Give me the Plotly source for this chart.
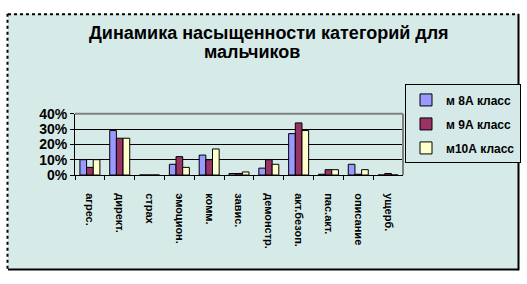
import plotly.graph_objects as go

W, H = 527, 284

categories = ["агрес.", "директ.", "страх", "эмоцион.", "комм.", "завис.",
              "демонстр.", "акт.безоп.", "пас.акт.", "описание", "ущерб."]
series_names = ["м 8А класс", "м 9А класс", "м10А класс"]
m8a = [0.10, 0.29, 0.0, 0.07, 0.13, 0.01, 0.045, 0.27, 0.005, 0.07, 0.0]
m9a = [0.05, 0.24, 0.0, 0.12, 0.10, 0.01, 0.10, 0.34, 0.035, 0.005, 0.01]
m10a = [0.10, 0.24, 0.0, 0.05, 0.17, 0.02, 0.07, 0.29, 0.035, 0.035, 0.0]
colors = ["#9999FF", "#993366", "#FFFFCC"]
y_ticks = [0, 0.1, 0.2, 0.3, 0.4]
y_ticklabels = ["0%", "10%", "20%", "30%", "40%"]

FONT = "Arial, Liberation Sans, sans-serif"


def px(x):
    return x / W


def py(y):
    return 1 - y / H


fig = go.Figure()
for i, (name, vals) in enumerate(zip(series_names, [m8a, m9a, m10a])):
    fig.add_trace(go.Bar(
        x=categories, y=vals, name=name,
        marker=dict(color=colors[i], line=dict(color="black", width=1)),
        legendgroup=f"g{i}",
    ))

L, R, T, B = 75, 403, 112, 177

shapes = [
    dict(type="rect", xref="paper", yref="paper", x0=px(8), x1=px(518), y0=py(277), y1=py(6),
         fillcolor="#D6EAE8", line=dict(width=0), layer="below"),
    dict(type="line", xref="paper", yref="paper", x0=px(8), x1=px(518), y0=py(6.5), y1=py(6.5),
         line=dict(color="black", width=2, dash="dot")),
    dict(type="line", xref="paper", yref="paper", x0=px(7.5), x1=px(7.5), y0=py(6), y1=py(277),
         line=dict(color="black", width=2, dash="dot")),
    dict(type="line", xref="paper", yref="paper", x0=px(8), x1=px(519), y0=py(277), y1=py(277),
         line=dict(color="black", width=2)),
    dict(type="line", xref="paper", yref="paper", x0=px(518.5), x1=px(518.5), y0=py(6), y1=py(278),
         line=dict(color="black", width=2)),
    dict(type="line", xref="paper", yref="paper", x0=px(L), x1=px(R), y0=py(T), y1=py(T),
         line=dict(color="#808080", width=2)),
    dict(type="line", xref="paper", yref="paper", x0=px(R), x1=px(R), y0=py(T), y1=py(B),
         line=dict(color="#808080", width=2)),
]

fig.update_layout(
    width=W, height=H,
    margin=dict(l=0, r=0, t=0, b=0),
    paper_bgcolor="white",
    plot_bgcolor="#C0C0C0",
    barmode="group",
    bargap=0.33,
    bargroupgap=0,
    shapes=shapes,
    font=dict(family=FONT, color="black"),
    xaxis=dict(
        domain=[px(L), px(R)],
        tickangle=90,
        tickson="boundaries",
        ticks="outside", ticklen=4, tickcolor="black",
        ticklabelstandoff=15,
        showline=True, linecolor="black", linewidth=1,
        showgrid=False,
        tickfont=dict(family=FONT, size=11, color="black", weight="bold"),
        fixedrange=True,
    ),
    yaxis=dict(
        domain=[py(B), py(T)],
        range=[0, 0.4],
        tickvals=y_ticks, ticktext=y_ticklabels,
        ticks="outside", ticklen=4, tickcolor="black",
        showline=True, linecolor="black", linewidth=1,
        showgrid=True, gridcolor="black", gridwidth=1,
        zeroline=False,
        tickfont=dict(family=FONT, size=14, color="black", weight="bold"),
        fixedrange=True,
    ),
    legend=dict(
        x=px(405), xanchor="left", y=py(81), yanchor="top",
        bgcolor="#D4E9E8", bordercolor="black", borderwidth=1,
        font=dict(family=FONT, size=12, color="black", weight="bold"),
        traceorder="grouped", tracegroupgap=5,
    ),
    showlegend=True,
    annotations=[
        dict(text="Динамика насыщенности категорий для", xref="paper", yref="paper",
             x=px(269), y=py(27), xanchor="center", yanchor="middle", showarrow=False,
             font=dict(family=FONT, size=18, color="black", weight="bold")),
        dict(text="мальчиков", xref="paper", yref="paper",
             x=px(252), y=py(47), xanchor="center", yanchor="middle", showarrow=False,
             font=dict(family=FONT, size=18, color="black", weight="bold")),
    ],
)

fig.write_html("out.html")
